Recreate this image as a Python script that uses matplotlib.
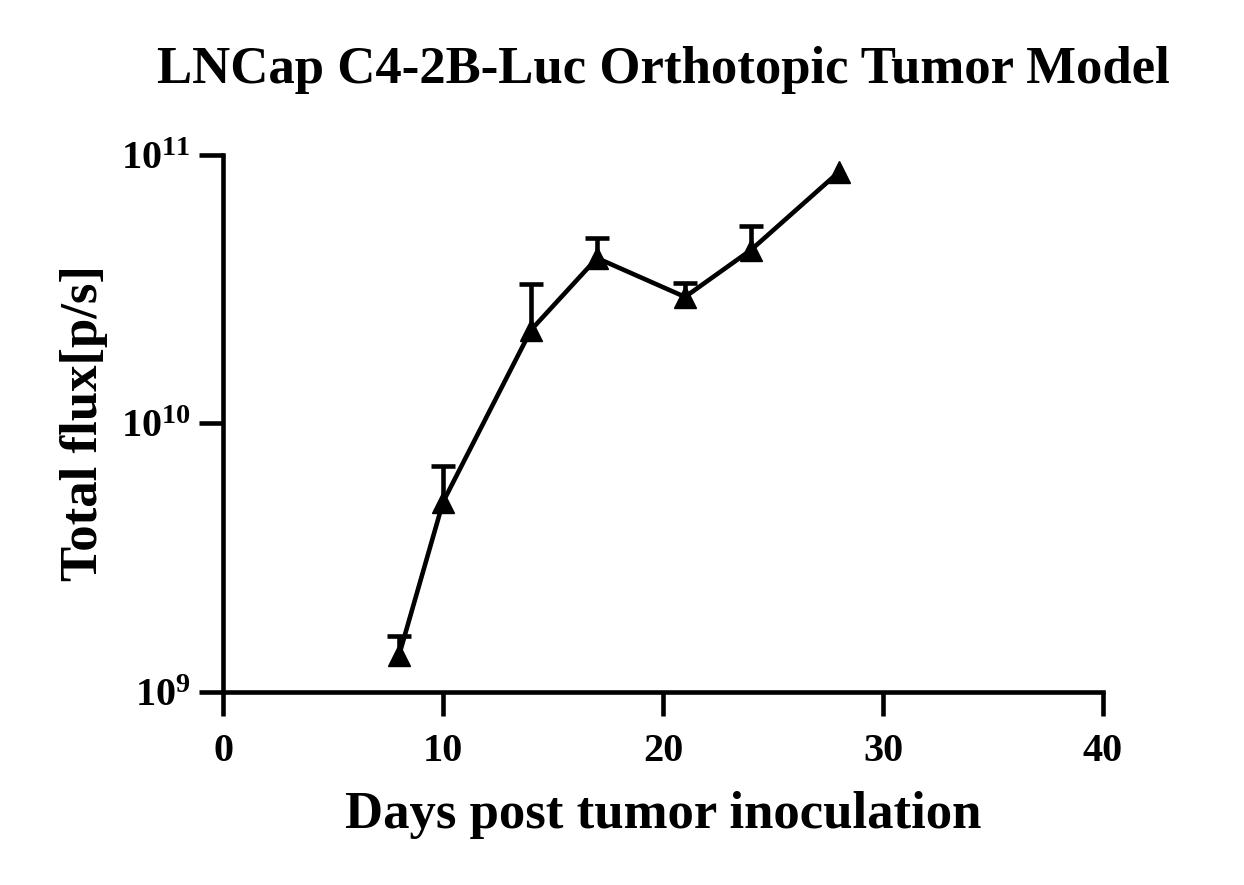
import math
import matplotlib
matplotlib.use("Agg")
import matplotlib.pyplot as plt
from matplotlib.ticker import FixedLocator, FuncFormatter, NullLocator

plt.rcParams['font.family'] = ['Liberation Serif', 'DejaVu Serif']
plt.rcParams['font.weight'] = 'bold'
plt.rcParams['mathtext.fontset'] = 'custom'
plt.rcParams['mathtext.rm'] = 'Liberation Serif:bold'
plt.rcParams['mathtext.bf'] = 'Liberation Serif:bold'

days = [8, 10, 14, 17, 21, 24, 28]
flux_mean = [1.37e9, 5.1e9, 2.23e10, 4.13e10, 2.96e10, 4.43e10, 8.65e10]
flux_upper = [1.62e9, 6.95e9, 3.3e10, 4.9e10, 3.33e10, 5.45e10, 8.65e10]

lw = 3.3

# only points with a visible (upper) SEM bar
eb_x = [d for d, m, u in zip(days, flux_mean, flux_upper) if u > m]
eb_y = [m for m, u in zip(flux_mean, flux_upper) if u > m]
eb_up = [u - m for m, u in zip(flux_mean, flux_upper) if u > m]

fig = plt.figure(figsize=(12.44, 8.85), dpi=100)
ax = fig.add_axes([0.1793, 0.2181, 0.7074, 0.6068])

eb = ax.errorbar(eb_x, eb_y, yerr=[[0] * len(eb_x), eb_up], fmt='none',
                 ecolor='black', elinewidth=lw, capsize=8.5, capthick=lw, zorder=2)
# hide the lower caps (one-sided error bars)
for cap in eb[1]:
    if list(cap.get_ydata()) == eb_y:
        cap.set_visible(False)

ax.plot(days, flux_mean, color='black', linewidth=lw, marker='^',
        markersize=16, zorder=3)

ax.set_yscale('log')
ax.set_ylim(1e9, 1e11)
ax.set_xlim(0, 40)
ax.set_xticks([0, 10, 20, 30, 40])
ax.yaxis.set_major_locator(FixedLocator([1e9, 1e10, 1e11]))
ax.yaxis.set_minor_locator(NullLocator())
ax.yaxis.set_major_formatter(FuncFormatter(lambda v, p: r'$\mathregular{10^{%d}}$' % round(math.log10(v))))

for side in ['top', 'right']:
    ax.spines[side].set_visible(False)
for side in ['left', 'bottom']:
    ax.spines[side].set_linewidth(lw)

ax.tick_params(axis='both', which='major', direction='out', length=17.5, width=lw,
               labelsize=29)
ax.tick_params(axis='x', pad=12)
ax.tick_params(axis='y', pad=6)

ax.set_xlabel('Days post tumor inoculation', fontsize=38, fontweight='bold', labelpad=15)
ax.set_ylabel('Total flux[p/s]', fontsize=38, fontweight='bold')
ax.yaxis.set_label_coords(-0.131, 0.5)
ax.set_title('LNCap C4-2B-Luc Orthotopic Tumor Model', fontsize=38, fontweight='bold', pad=52)

fig.savefig('out.png', dpi=100)
